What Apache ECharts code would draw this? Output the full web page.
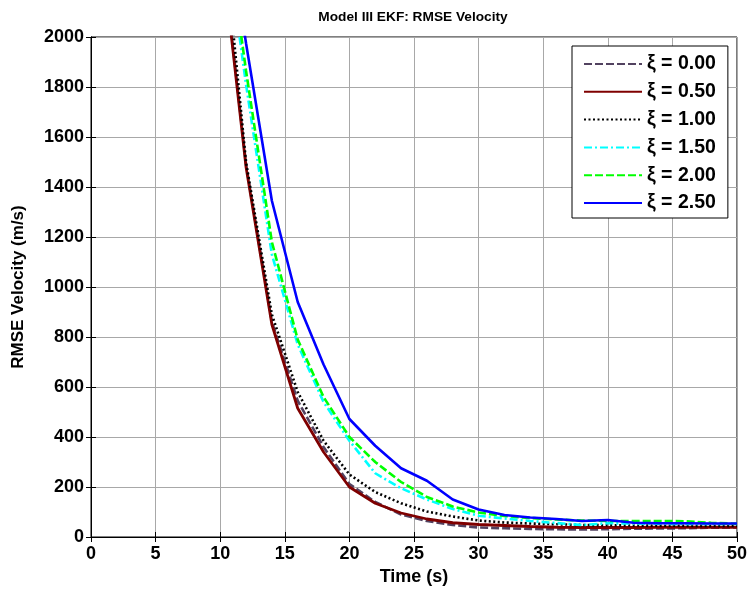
<!DOCTYPE html>
<html>
<head>
<meta charset="utf-8">
<script src="https://cdn.jsdelivr.net/npm/echarts@6/dist/echarts.min.js"></script>
<style>
  html, body { margin: 0; padding: 0; background: #fff; }
  #main { width: 750px; height: 596px; }
</style>
</head>
<body>
<div id="main"></div>
<script>
// time steps (s)
var times = [10, 12, 14, 16, 18, 20, 22, 24, 26, 28, 30, 32, 34, 36, 38, 40, 42, 44, 46, 48, 50]

// RMSE velocity per xi (values at t=10 are above the axis)
var xi000 = [2420, 1490, 860, 545, 360, 212, 140, 90, 64, 48, 38, 35, 32, 31, 30, 31, 33, 34, 35, 37, 38]
var xi050 = [2400, 1480, 850, 515, 340, 200, 135, 96, 72, 57, 50, 46, 42, 39, 38, 38, 38, 39, 39, 39, 39]
var xi100 = [2550, 1500, 890, 580, 385, 250, 180, 135, 102, 82, 66, 58, 54, 51, 48, 47, 46, 45, 45, 44, 44]
var xi150 = [2570, 1810, 1130, 770, 540, 385, 255, 195, 150, 112, 85, 74, 64, 56, 48, 55, 54, 53, 52, 52, 52]
var xi200 = [2615, 1865, 1180, 790, 560, 400, 300, 220, 160, 122, 98, 84, 76, 70, 66, 64, 64, 64, 63, 57, 53]
var xi250 = [2650, 1975, 1345, 940, 690, 472, 365, 275, 225, 150, 110, 88, 78, 72, 64, 68, 57, 55, 55, 54, 54]

var names = ["ξ = 0.00", "ξ = 0.50", "ξ = 1.00", "ξ = 1.50", "ξ = 2.00", "ξ = 2.50"]
var values = [xi000, xi050, xi100, xi150, xi200, xi250]
var colors = ["#524260", "#7f0000", "#000000", "#00ffff", "#00ff00", "#0000ff"]
var dashes = [[8, 3], "solid", [2, 2.5], [8, 3, 2, 3], [8, 3], "solid"]
var widths = [2.6, 2.8, 2.6, 2.6, 2.6, 2.6]

var font = "Liberation Sans, Arial, sans-serif"

function pairs(v) {
    return times.map(function(t, i) { return [t, v[i]] })
}

var series = names.map(function(n, k) {
    return {
        name: n,
        type: "line",
        data: pairs(values[k]),
        showSymbol: false,
        symbol: "none",
        clip: true,
        color: colors[k],
        lineStyle: { color: colors[k], width: widths[k], type: dashes[k] }
    }
})

var myChart = echarts.init(document.getElementById("main"))
var option = {
    animation: false,
    backgroundColor: "#fff",
    title: {
        text: "Model III EKF: RMSE Velocity",
        left: 408,
        textAlign: "center",
        top: 5,
        textStyle: { fontFamily: font, fontSize: 13.7, fontWeight: "bold", color: "#000" }
    },
    grid: {
        left: 91, right: 12, top: 37, bottom: 59,
        show: true, borderColor: "#000", borderWidth: 1, backgroundColor: "#fff"
    },
    legend: {
        orient: "vertical",
        left: 572, top: 46,
        padding: [8, 12, 5, 11],
        itemWidth: 58, itemHeight: 14, itemGap: 7.8, itemTextGap: 7,
        backgroundColor: "#fff",
        borderColor: "#000", borderWidth: 1,
        itemStyle: { color: "rgba(0,0,0,0)", borderColor: "rgba(0,0,0,0)", borderWidth: 0 },
        data: names,
        textStyle: { fontFamily: font, fontSize: 19.5, fontWeight: "bold", color: "#000", lineHeight: 20 }
    },
    xAxis: [{
        type: "value", min: 0, max: 50, interval: 5,
        name: "Time (s)", nameLocation: "middle", nameGap: 31,
        nameTextStyle: { fontFamily: font, fontSize: 18, fontWeight: "bold", color: "#000" },
        axisLine: { show: true, lineStyle: { color: "#000", width: 1 } },
        axisTick: { show: true, inside: true, length: 5, lineStyle: { color: "#000" } },
        axisLabel: { fontFamily: font, fontSize: 18, fontWeight: "bold", color: "#000", margin: 8 },
        splitLine: { show: true, lineStyle: { color: "#a8a8a8", width: 1 } }
    }, {
        type: "value", min: 0, max: 50, interval: 5, position: "top",
        axisLine: { show: true, lineStyle: { color: "#000" } },
        axisTick: { show: true, inside: true, length: 5, lineStyle: { color: "#000" } },
        axisLabel: { show: false },
        splitLine: { show: false }
    }],
    yAxis: [{
        type: "value", min: 0, max: 2000, interval: 200,
        name: "RMSE Velocity (m/s)", nameLocation: "middle", nameGap: 64,
        nameTextStyle: { fontFamily: font, fontSize: 17, fontWeight: "bold", color: "#000" },
        axisLine: { show: true, lineStyle: { color: "#000", width: 1 } },
        axisTick: { show: true, inside: true, length: 5, lineStyle: { color: "#000" } },
        axisLabel: {
            fontFamily: font, fontSize: 18, fontWeight: "bold", color: "#000", margin: 7,
            formatter: function(v) { return String(v) }
        },
        splitLine: { show: true, lineStyle: { color: "#a8a8a8", width: 1 } }
    }, {
        type: "value", min: 0, max: 2000, interval: 200, position: "right",
        axisLine: { show: true, lineStyle: { color: "#000" } },
        axisTick: { show: true, inside: true, length: 5, lineStyle: { color: "#000" } },
        axisLabel: { show: false },
        splitLine: { show: false }
    }],
    series: series
}
myChart.setOption(option)
</script>
</body>
</html>
